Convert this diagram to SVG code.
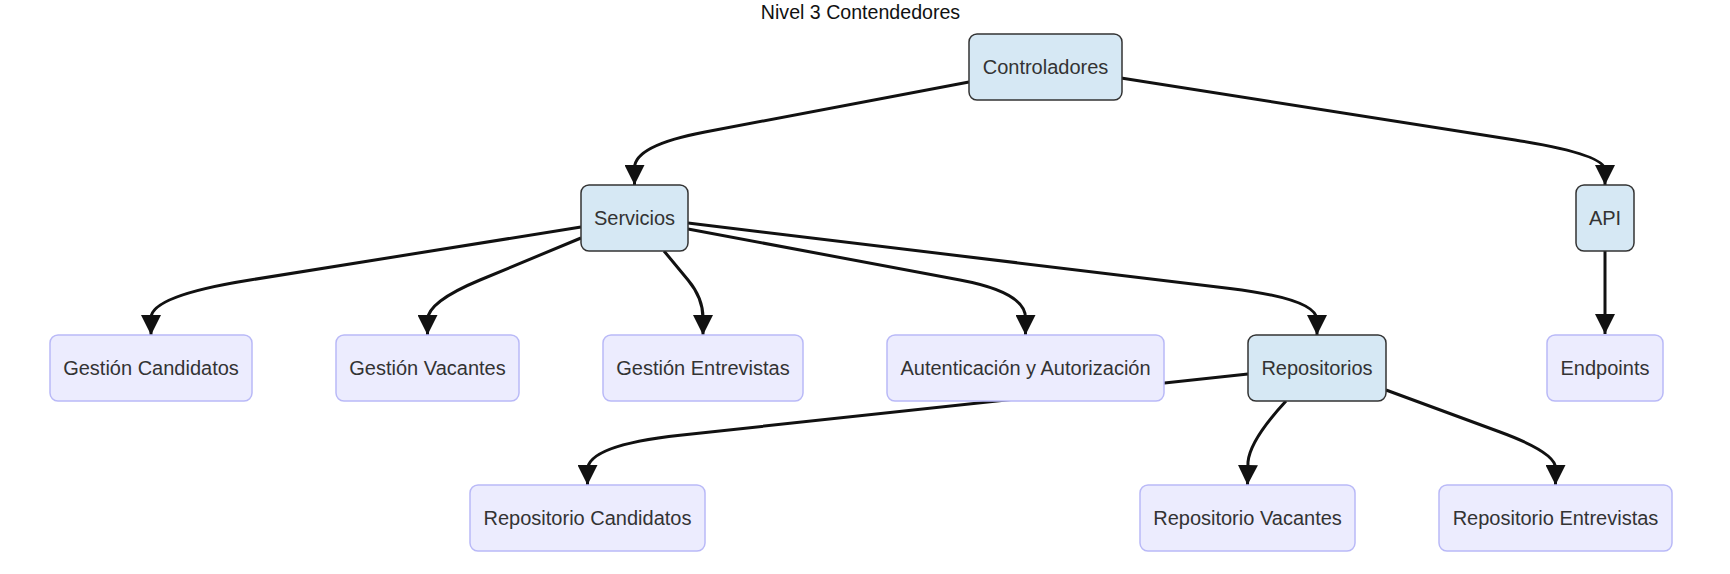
<svg xmlns="http://www.w3.org/2000/svg" width="1730" height="574" viewBox="0 0 1730 574">
<style>
  text { font-family: "Liberation Sans", Arial, sans-serif; fill: #333; text-anchor: middle; }
  .lbl { font-size: 20px; }
  .title { font-size: 19.6px; fill: #111; }
  .main rect { fill: #d6e8f4; stroke: #333; stroke-width: 1.5; }
  .sub rect { fill: #ececfe; stroke: #b9b9f7; stroke-width: 1.5; }
  .edge { fill: none; stroke: #111; stroke-width: 3; marker-end: url(#arrow); }
</style>
<defs>
  <marker id="arrow" viewBox="0 0 10 10" refX="10" refY="5" markerUnits="userSpaceOnUse" markerWidth="20" markerHeight="20" orient="auto">
    <path d="M0,0 L10,5 L0,10 z" fill="#111"/>
  </marker>
</defs>
<rect width="1730" height="574" fill="#fff"/>
<text class="title" x="860.5" y="19">Nivel 3 Contendedores</text>
<g id="connectors">
  <path class="edge" d="M969,82 L705,132 Q634.5,145.4 634.5,168 L634.5,185"/>
  <path class="edge" d="M1121,78 L1515,140 Q1605,154.2 1605,170 L1605,185"/>
  <path class="edge" d="M581,227 L250,280 Q151,295.8 151,318 L151,335"/>
  <path class="edge" d="M581,238 L480,280 Q427.5,301.8 427.5,320 L427.5,335"/>
  <path class="edge" d="M664,251 L688,280 Q703,298 703,318 L703,335"/>
  <path class="edge" d="M688,229 L960,280 Q1025.5,292.3 1025.5,318 L1025.5,335"/>
  <path class="edge" d="M688,223 L1230,288.5 Q1317,299 1317,320 L1317,335"/>
  <path class="edge" d="M1605,251 L1605,334"/>
  <path class="edge" d="M1248,374 L680,435.2 Q587.5,445.2 587.5,470 L587.5,485"/>
  <path class="edge" d="M1286,401 Q1250,440 1248,462 L1247.5,485"/>
  <path class="edge" d="M1386,390 L1500,432 Q1555.5,452.4 1555.5,468 L1555.5,485"/>
</g>
<g id="controladores" class="main"><rect x="969" y="34" width="153" height="66" rx="8"/><text class="lbl" x="1045.5" y="74">Controladores</text></g>
<g id="servicios" class="main"><rect x="581" y="185" width="107" height="66" rx="8"/><text class="lbl" x="634.5" y="225">Servicios</text></g>
<g id="api" class="main"><rect x="1576" y="185" width="58" height="66" rx="8"/><text class="lbl" x="1605" y="225">API</text></g>
<g id="gestion-candidatos" class="sub"><rect x="50" y="335" width="202" height="66" rx="8"/><text class="lbl" x="151" y="375">Gestión Candidatos</text></g>
<g id="gestion-vacantes" class="sub"><rect x="336" y="335" width="183" height="66" rx="8"/><text class="lbl" x="427.5" y="375">Gestión Vacantes</text></g>
<g id="gestion-entrevistas" class="sub"><rect x="603" y="335" width="200" height="66" rx="8"/><text class="lbl" x="703" y="375">Gestión Entrevistas</text></g>
<g id="autenticacion" class="sub"><rect x="887" y="335" width="277" height="66" rx="8"/><text class="lbl" x="1025.5" y="375">Autenticación y Autorización</text></g>
<g id="repositorios" class="main"><rect x="1248" y="335" width="138" height="66" rx="8"/><text class="lbl" x="1317" y="375">Repositorios</text></g>
<g id="endpoints" class="sub"><rect x="1547" y="335" width="116" height="66" rx="8"/><text class="lbl" x="1605" y="375">Endpoints</text></g>
<g id="repo-candidatos" class="sub"><rect x="470" y="485" width="235" height="66" rx="8"/><text class="lbl" x="587.5" y="525">Repositorio Candidatos</text></g>
<g id="repo-vacantes" class="sub"><rect x="1140" y="485" width="215" height="66" rx="8"/><text class="lbl" x="1247.5" y="525">Repositorio Vacantes</text></g>
<g id="repo-entrevistas" class="sub"><rect x="1439" y="485" width="233" height="66" rx="8"/><text class="lbl" x="1555.5" y="525">Repositorio Entrevistas</text></g>
</svg>
